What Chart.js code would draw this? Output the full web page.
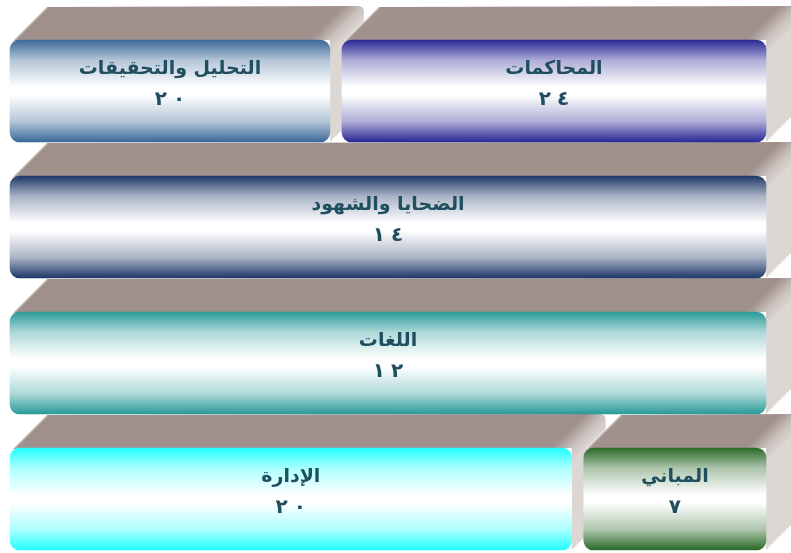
<!DOCTYPE html>
<html lang="ar">
<head>
<meta charset="utf-8">
<script src="https://cdn.jsdelivr.net/npm/chart.js@4.4.1/dist/chart.umd.min.js"></script>
<style>
    html, body { margin: 0; padding: 0; background: #ffffff; }
    #wrap { width: 791px; height: 553px; }
</style>
</head>
<body>
<div id="wrap"><canvas id="mainChart" width="791" height="553"></canvas></div>
<script>
// sections, read right to left inside each row
let sections = ["المحاكمات", "التحليل والتحقيقات", "الضحايا والشهود", "اللغات", "المباني", "الإدارة"];
let counts = [24, 20, 14, 12, 7, 20];
let rowOf = [0, 0, 1, 2, 3, 3];
// share of the row width taken by each block (percent)
let rowShare = [57, 43, 100, 100, 24.5, 75.5];
let arrayColor = ["#2a2896", "#3a6898", "#1f3868", "#2a9a98", "#2a6a28", "#22ffff"];

const GAP = 1.6;      // x units between two blocks of a row
const DEPTH = 34;     // 3d depth in px
const THICK = 102;    // bar thickness in px

function makeSpans() {
    let spans = [];
    let cursor = {};
    for (let i = 0; i < sections.length; i++) {
        let r = rowOf[i];
        let n = rowOf.filter(v => v == r).length;
        let avail = 100 - GAP * (n - 1);
        let end = (cursor[r] === undefined) ? 100 : cursor[r];
        let start = end - avail * rowShare[i] / 100;
        if (start < 0.01) start = 0;
        spans.push({x: [start, end], y: r});
        cursor[r] = start - GAP;
    }
    return spans;
}

function arabicDigits(n) {
    const d = "٠١٢٣٤٥٦٧٨٩";
    return String(n).split("").map(c => d[+c]);
}

// mix a hex colour with white, w = share of white
function tint(hex, w) {
    let r = parseInt(hex.substr(1, 2), 16), g = parseInt(hex.substr(3, 2), 16), b = parseInt(hex.substr(5, 2), 16);
    r = Math.round(r + (255 - r) * w); g = Math.round(g + (255 - g) * w); b = Math.round(b + (255 - b) * w);
    return "rgb(" + r + "," + g + "," + b + ")";
}

function frontGradient(context) {
    let chart = context.chart;
    let i = context.dataIndex;
    if (i === undefined) return arrayColor[0];
    if (!chart.chartArea) return arrayColor[i];
    let yc = chart.scales.y.getPixelForValue(rowOf[i]);
    let g = chart.ctx.createLinearGradient(0, yc - THICK / 2, 0, yc + THICK / 2);
    g.addColorStop(0, arrayColor[i]);
    g.addColorStop(0.2, tint(arrayColor[i], 0.62));
    g.addColorStop(0.46, "#ffffff");
    g.addColorStop(0.54, "#ffffff");
    g.addColorStop(0.8, tint(arrayColor[i], 0.62));
    g.addColorStop(1, arrayColor[i]);
    return g;
}

// top and side faces, painted before the fronts
const boxFaces = {
    id: "boxFaces",
    beforeDatasetsDraw(chart) {
        let ctx = chart.ctx;
        let meta = chart.getDatasetMeta(0);
        let order = meta.data.map((el, i) => i);
        order.sort((a, b) => rowOf[a] - rowOf[b] ||
            Math.min(meta.data[a].x, meta.data[a].base) - Math.min(meta.data[b].x, meta.data[b].base));
        ctx.save();
        order.forEach(i => {
            let el = meta.data[i];
            let x0 = Math.min(el.x, el.base), x1 = Math.max(el.x, el.base);
            let top = el.y - el.height / 2, bottom = el.y + el.height / 2;
            let d = DEPTH;

            ctx.beginPath();
            ctx.moveTo(x0 + 3, top + 1);
            ctx.lineTo(x0 + 3 + d, top - d + 1);
            ctx.lineTo(x1 + d - 6, top - d);
            ctx.quadraticCurveTo(x1 + d, top - d, x1 + d, top - d + 6);
            ctx.lineTo(x1 + d, bottom - d);
            ctx.lineTo(x1, bottom);
            ctx.lineTo(x1, top);
            ctx.closePath();
            let g = ctx.createLinearGradient(x1 - 10, top - 10, x1 + 8, top + 8);
            g.addColorStop(0, "#a0918d");
            g.addColorStop(0.55, "#cbc2be");
            g.addColorStop(1, "#ddd7d4");
            ctx.fillStyle = g;
            ctx.fill();

            // light bevel on the left edge of the top face
            ctx.beginPath();
            ctx.moveTo(x0 + 3, top + 1);
            ctx.lineTo(x0 + 3 + d, top - d + 1);
            ctx.strokeStyle = "rgba(255,255,255,0.3)";
            ctx.lineWidth = 3;
            ctx.stroke();
        });
        ctx.restore();
    },
    afterDatasetsDraw(chart) {
        let ctx = chart.ctx;
        let meta = chart.getDatasetMeta(0);
        ctx.save();
        ctx.fillStyle = "#1f4e5f";
        ctx.textBaseline = "middle";
        meta.data.forEach((el, i) => {
            let cx = (el.x + el.base) / 2;
            ctx.textAlign = "center";
            ctx.font = "bold 19px 'DejaVu Sans'";
            ctx.fillText(sections[i], cx, el.y - 22);

            // digits one by one, with a little space between them
            ctx.font = "bold 20px 'DejaVu Sans'";
            ctx.textAlign = "left";
            let digits = arabicDigits(counts[i]);
            let space = 6;
            let widths = digits.map(c => ctx.measureText(c).width);
            let total = widths.reduce((a, b) => a + b, 0) + space * (digits.length - 1);
            let x = cx - total / 2;
            digits.forEach((c, k) => {
                ctx.fillText(c, x, el.y + 9);
                x += widths[k] + space;
            });
        });
        ctx.restore();
    }
};

let canvas_1 = document.getElementById("mainChart");
new Chart(canvas_1, {
    type: "bar",
    data: {
        labels: sections,
        datasets: [{
            data: makeSpans(),
            backgroundColor: frontGradient,
            borderWidth: 0,
            borderRadius: 10,
            borderSkipped: false,
            barThickness: THICK
        }]
    },
    options: {
        indexAxis: "y",
        responsive: false,
        animation: false,
        events: [],
        layout: { padding: 0 },
        scales: {
            x: { type: "linear", display: false, min: -1.3228, max: 103.307 },
            y: { type: "linear", display: false, reverse: true, min: -0.669, max: 3.397, offset: false }
        },
        plugins: {
            legend: { display: false },
            tooltip: { enabled: false }
        }
    },
    plugins: [boxFaces]
});
</script>
</body>
</html>
